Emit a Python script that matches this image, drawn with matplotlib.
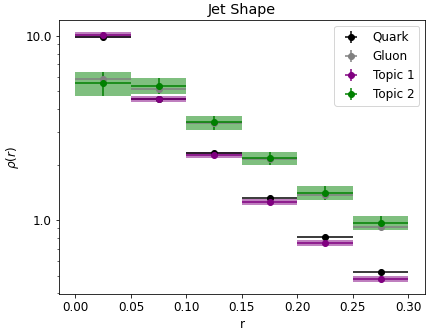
import numpy as np
import matplotlib
matplotlib.use("Agg")
import matplotlib.pyplot as plt
from matplotlib.ticker import FormatStrFormatter, NullFormatter

# bin edges / centres in r
bin_lo = [0.00, 0.05, 0.10, 0.15, 0.20, 0.25]
bin_width = 0.05
r_centers = [0.025, 0.075, 0.125, 0.175, 0.225, 0.275]

quark = [9.83, 4.54, 2.30, 1.32, 0.81, 0.522]
quark_err = [0.10, 0.05, 0.03, 0.02, 0.01, 0.008]
gluon = [5.86, 5.18, 3.35, 2.14, 1.37, 0.92]
gluon_err = [0.35, 0.20, 0.10, 0.08, 0.05, 0.04]
topic1 = [10.1, 4.52, 2.25, 1.26, 0.753, 0.48]
topic1_err = [0.38, 0.17, 0.085, 0.048, 0.029, 0.018]
topic2 = [5.55, 5.35, 3.39, 2.17, 1.41, 0.963]
topic2_err = [0.82, 0.52, 0.305, 0.18, 0.125, 0.083]

plt.rcParams["font.size"] = 12

fig = plt.figure(figsize=(426 / 72, 333 / 72), dpi=72)
ax = fig.add_axes([0.138, 0.116, 0.8597, 0.824])

series = [
    ("Quark", quark, quark_err, "black"),
    ("Gluon", gluon, gluon_err, "gray"),
    ("Topic 1", topic1, topic1_err, "purple"),
    ("Topic 2", topic2, topic2_err, "green"),
]

for name, vals, errs, col in series:
    ax.errorbar(r_centers, vals, xerr=bin_width / 2, yerr=errs, fmt="o",
                color=col, label=name)

# shaded uncertainty boxes for the topics
for vals, errs, col in [(topic1, topic1_err, "purple"), (topic2, topic2_err, "green")]:
    v = np.array(vals)
    e = np.array(errs)
    ax.bar(bin_lo, 2 * e, bottom=v - e, width=bin_width, align="edge",
           color=col, alpha=0.5, linewidth=0)

ax.set_yscale("log")
ax.set_ylim(0.395, 12.2)
ax.yaxis.set_major_formatter(FormatStrFormatter("%.1f"))
ax.yaxis.set_minor_formatter(NullFormatter())
ax.set_xticks([0.0, 0.05, 0.10, 0.15, 0.20, 0.25, 0.30])
ax.xaxis.set_major_formatter(FormatStrFormatter("%.2f"))

ax.set_title("Jet Shape")
ax.set_xlabel("r")
ax.set_ylabel(r"$\rho(r)$")
ax.legend(loc="upper right")

fig.savefig("out.png", dpi=72)
